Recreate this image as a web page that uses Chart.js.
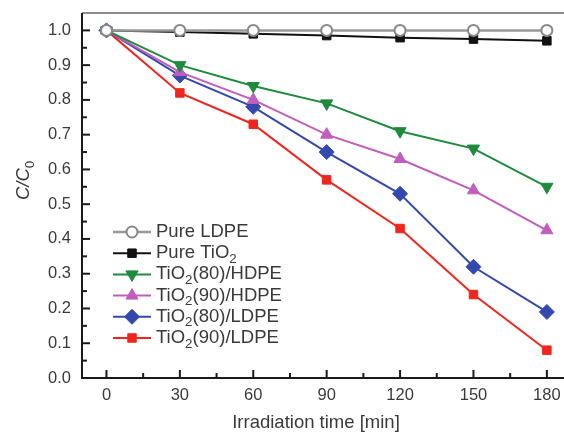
<!DOCTYPE html>
<html>
<head>
<meta charset="utf-8">
<script src="https://cdn.jsdelivr.net/npm/chart.js@4.4.1/dist/chart.umd.min.js"></script>
<style>
  html, body { margin: 0; padding: 0; background: #fff; overflow: hidden; }
  #chart { display: block; }
</style>
</head>
<body>
<canvas id="chart" width="564" height="434"></canvas>
<script>
const times = [0, 30, 60, 90, 120, 150, 180];
const xTicks = [0, 30, 60, 90, 120, 150, 180];
const yTicks = [0.0, 0.1, 0.2, 0.3, 0.4, 0.5, 0.6, 0.7, 0.8, 0.9, 1.0];

const pureLDPE   = [1.0, 1.0, 1.0, 1.0, 1.0, 1.0, 1.0];
const pureTiO2   = [1.0, 0.995, 0.99, 0.985, 0.979, 0.975, 0.97];
const tio80HDPE  = [1.0, 0.90, 0.84, 0.79, 0.71, 0.66, 0.55];
const tio90HDPE  = [1.0, 0.88, 0.80, 0.70, 0.63, 0.54, 0.425];
const tio80LDPE  = [1.0, 0.87, 0.78, 0.65, 0.53, 0.32, 0.19];
const tio90LDPE  = [1.0, 0.82, 0.73, 0.57, 0.43, 0.24, 0.08];

const FONT = '"Liberation Sans", Arial, sans-serif';
const TEXT = '#3a3a3a';

function series(label, values, color, style, opts) {
    return Object.assign({
        label: label,
        data: values.map((v, i) => ({x: times[i], y: v})),
        borderColor: color,
        backgroundColor: color,
        pointBackgroundColor: color,
        pointBorderColor: color,
        pointStyle: style,
        pointRadius: 6,
        pointBorderWidth: 1,
        borderWidth: 2,
        tension: 0,
    }, opts || {});
}

// draw text, putting the 2 of TiO2 (or 0 of C0) as a subscript
function drawRich(ctx, parts, x, y, size) {
    let cx = x;
    parts.forEach(p => {
        const s = p.sub ? size * 0.72 : size;
        ctx.font = (p.italic ? 'italic ' : '') + s + 'px ' + FONT;
        ctx.fillText(p.t, cx, p.sub ? y + size * 0.32 : y);
        cx += ctx.measureText(p.t).width;
    });
}

function splitTiO2(text) {
    const out = [];
    const bits = text.split('TiO2');
    bits.forEach((b, i) => {
        if (i > 0) { out.push({t: 'TiO'}); out.push({t: '2', sub: true}); }
        if (b) out.push({t: b});
    });
    return out;
}

const framePlugin = {
    id: 'frame',
    afterDraw(chart) {
        const ctx = chart.ctx;
        const a = chart.chartArea;
        const xs = chart.scales.x, ys = chart.scales.y;
        ctx.save();
        // box (right side is cropped off in the original)
        ctx.strokeStyle = '#666';
        ctx.lineWidth = 1.5;
        ctx.beginPath();
        ctx.moveTo(a.left, a.top); ctx.lineTo(chart.width, a.top);
        ctx.stroke();
        ctx.strokeStyle = '#1a1a1a';
        ctx.lineWidth = 2;
        ctx.beginPath();
        ctx.moveTo(a.left, a.top); ctx.lineTo(a.left, a.bottom); ctx.lineTo(chart.width, a.bottom);
        ctx.stroke();
        // inward ticks
        ctx.lineWidth = 2;
        for (let v = 0; v <= 1.0001; v += 0.05) {
            const py = ys.getPixelForValue(v);
            const major = Math.abs(v * 10 - Math.round(v * 10)) < 1e-6;
            ctx.beginPath();
            ctx.moveTo(a.left, py); ctx.lineTo(a.left + (major ? 8 : 5), py);
            ctx.stroke();
        }
        for (let v = 0; v <= 180; v += 15) {
            const px = xs.getPixelForValue(v);
            const major = v % 30 === 0;
            ctx.beginPath();
            ctx.moveTo(px, a.bottom); ctx.lineTo(px, a.bottom - (major ? 8 : 5));
            ctx.stroke();
        }
        // axis titles
        ctx.fillStyle = TEXT;
        ctx.textBaseline = 'middle';
        ctx.textAlign = 'center';
        ctx.font = '18.5px ' + FONT;
        ctx.fillText('Irradiation time [min]', 316, 423);
        ctx.save();
        ctx.translate(24, 180);
        ctx.rotate(-Math.PI / 2);
        ctx.textAlign = 'left';
        drawRich(ctx, [{t: 'C/C', italic: true}, {t: '0', sub: true}], -20, 0, 18.5);
        ctx.restore();
        // legend
        ctx.textAlign = 'left';
        chart.data.datasets.forEach((ds, i) => {
            const y = 232 + i * 21.2;
            ctx.strokeStyle = ds.borderColor;
            ctx.lineWidth = ds.borderWidth;
            ctx.beginPath();
            ctx.moveTo(113, y); ctx.lineTo(151, y);
            ctx.stroke();
            ctx.fillStyle = ds.pointBackgroundColor;
            ctx.strokeStyle = ds.pointBorderColor;
            ctx.lineWidth = ds.pointBorderWidth;
            Chart.helpers.drawPoint(ctx, {pointStyle: ds.pointStyle, radius: ds.pointRadius, rotation: ds.pointRotation || 0, borderWidth: ds.pointBorderWidth}, 132, y);
            ctx.fillStyle = TEXT;
            drawRich(ctx, splitTiO2(ds.label), 156, y, 18.5);
        });
        ctx.restore();
    }
};

const config = {
    type: 'line',
    data: {
        datasets: [
            series('Pure LDPE', pureLDPE, '#999999', 'circle', {pointBackgroundColor: '#ffffff', pointBorderColor: '#888888', pointBorderWidth: 2, borderWidth: 2.5, pointRadius: 5.5}),
            series('Pure TiO2', pureTiO2, '#111111', 'rect', {pointRadius: 6}),
            series('TiO2(80)/HDPE', tio80HDPE, '#1e8a3c', 'triangle', {pointRotation: 180, pointRadius: 7}),
            series('TiO2(90)/HDPE', tio90HDPE, '#c15dbc', 'triangle', {pointRadius: 7}),
            series('TiO2(80)/LDPE', tio80LDPE, '#3449ad', 'rectRot', {pointRadius: 7.5}),
            series('TiO2(90)/LDPE', tio90LDPE, '#f0261e', 'rect', {pointRadius: 6}),
        ]
    },
    options: {
        responsive: false,
        animation: false,
        layout: { autoPadding: false, padding: { left: 0, right: 0, top: 13, bottom: 0 } },
        plugins: {
            legend: { display: false },
            tooltip: { enabled: false },
        },
        scales: {
            x: {
                type: 'linear',
                min: -10,
                max: 187,
                afterBuildTicks: s => { s.ticks = xTicks.map(v => ({value: v})); },
                afterFit: s => { s.height = 56; s.paddingLeft = 0; s.paddingRight = 0; },
                grid: { display: false, drawTicks: false },
                border: { display: false },
                ticks: { color: TEXT, font: { family: FONT, size: 16.5 }, padding: 8, maxRotation: 0 },
            },
            y: {
                type: 'linear',
                min: 0,
                max: 1.05,
                afterBuildTicks: s => { s.ticks = yTicks.map(v => ({value: v})); },
                afterFit: s => { s.width = 82; s.paddingTop = 0; s.paddingBottom = 0; },
                grid: { display: false, drawTicks: false },
                border: { display: false },
                ticks: { color: TEXT, font: { family: FONT, size: 16.5 }, padding: 11, callback: v => v.toFixed(1) },
            }
        }
    },
    plugins: [framePlugin]
};

const chart = new Chart(document.getElementById('chart').getContext('2d'), config);
</script>
</body>
</html>
